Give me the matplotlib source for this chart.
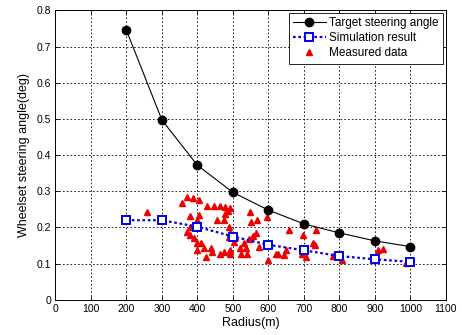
import matplotlib
matplotlib.use("Agg")
import matplotlib.pyplot as plt

radius = [200, 300, 400, 500, 600, 700, 800, 900, 1000]
target = [0.745, 0.497, 0.372, 0.297, 0.248, 0.210, 0.185, 0.163, 0.147]
simulation = [0.220, 0.220, 0.202, 0.175, 0.152, 0.137, 0.121, 0.112, 0.105]

meas_x = [259, 358, 371, 388, 404, 378, 404, 398, 387, 380, 371, 380, 390, 399,
          410, 418, 399, 428, 446, 463, 478, 493, 486, 479, 456, 476, 489, 493,
          506, 503, 489, 548, 567, 552, 564, 557, 545, 531, 520, 536, 573, 439,
          442, 425, 463, 476, 491, 493, 522, 541, 597, 599, 621, 627, 645, 649,
          657, 698, 699, 706, 694, 725, 730, 734, 783, 808, 898, 910, 922, 989]
meas_y = [0.242, 0.268, 0.285, 0.282, 0.277, 0.231, 0.234, 0.222, 0.206, 0.201,
          0.188, 0.179, 0.170, 0.156, 0.156, 0.142, 0.138, 0.258, 0.260, 0.259,
          0.256, 0.255, 0.245, 0.238, 0.222, 0.220, 0.201, 0.186, 0.174, 0.160,
          0.174, 0.244, 0.222, 0.216, 0.186, 0.177, 0.168, 0.156, 0.142, 0.142,
          0.147, 0.142, 0.131, 0.118, 0.128, 0.133, 0.128, 0.139, 0.127, 0.128,
          0.230, 0.110, 0.126, 0.127, 0.125, 0.139, 0.192, 0.178, 0.139, 0.118,
          0.128, 0.156, 0.152, 0.194, 0.121, 0.110, 0.110, 0.139, 0.140, 0.102]

xticks = list(range(0, 1101, 100))
yticks = [0, 0.1, 0.2, 0.3, 0.4, 0.5, 0.6, 0.7, 0.8]

plt.rcParams['font.family'] = ['Liberation Sans', 'DejaVu Sans']

fig = plt.figure(figsize=(4.62, 3.35), dpi=100)
ax = fig.add_axes([0.120, 0.105, 0.845, 0.864])

ax.plot(radius, target, '-', color='black', lw=0.8, marker='o', ms=6,
        mfc='black', mec='black', label='Target steering angle', zorder=4)
ax.plot(radius, simulation, linestyle=(0, (1.2, 1.2)), color='#0000ee', lw=1.6,
        marker='s', ms=5.2, mfc='white', mec='#0000ee', mew=1.4,
        label='Simulation result', zorder=4)
ax.plot(meas_x, meas_y, linestyle='none', marker='^', ms=5, color='#ee0000',
        mec='#ee0000', label='Measured data', zorder=3)

ax.set_xlim(0, 1100)
ax.set_ylim(0, 0.8)
ax.set_xticks(xticks)
ax.set_yticks(yticks)
ax.set_yticklabels(['0', '0.1', '0.2', '0.3', '0.4', '0.5', '0.6', '0.7', '0.8'])
ax.tick_params(direction='in', top=True, right=True, labelsize=7.5,
               length=3, width=0.6, colors='black', pad=3)
for s in ax.spines.values():
    s.set_linewidth(0.7)
ax.grid(True, color='black', linestyle=(0, (2, 2.5)), linewidth=0.6)
ax.set_axisbelow(True)

ax.set_xlabel('Radius(m)', fontsize=9, labelpad=2)
ax.set_ylabel('Wheelset steering angle(deg)', fontsize=9, labelpad=5)

leg = ax.legend(loc='upper right', fontsize=8.5, frameon=True, fancybox=False,
                edgecolor='black', framealpha=1, borderpad=0.35,
                handlelength=2.8, handletextpad=0.3, labelspacing=0.25,
                borderaxespad=0.25)
leg.get_frame().set_linewidth(0.6)

fig.savefig('out.png', dpi=100)
